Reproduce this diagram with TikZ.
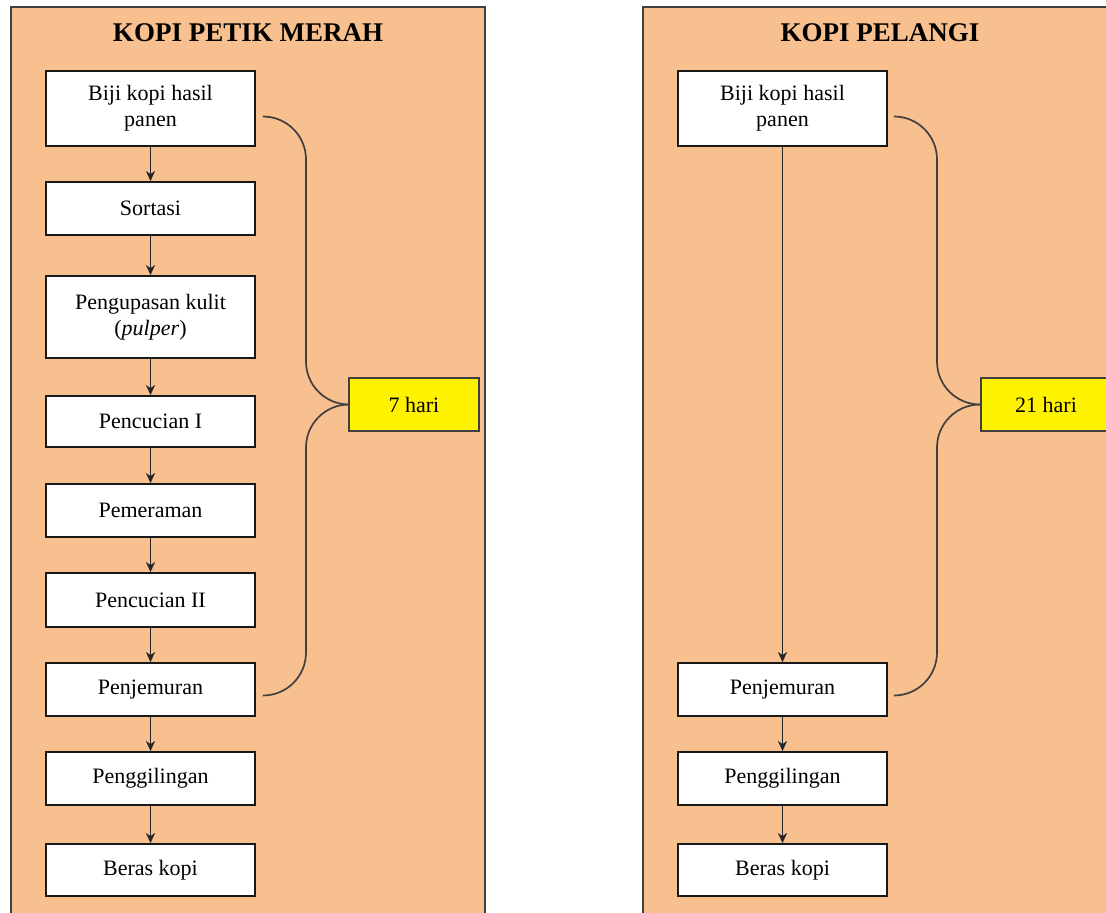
\documentclass[tikz,border=0pt]{standalone}
\usepackage{fontspec}
\setmainfont{Liberation Serif}
\usetikzlibrary{arrows.meta,calc}
\definecolor{peach}{RGB}{248,191,143}
\definecolor{framegray}{RGB}{64,64,64}
\begin{document}
\begin{tikzpicture}[x=1pt,y=-1pt,
  panel/.style={draw=framegray,line width=2.2pt,fill=peach},
  stepbox/.style={draw=black!90,line width=1.8pt,fill=white,minimum width=209pt,align=center,
    font=\fontsize{22}{26}\selectfont,inner sep=0pt},
  daybox/.style={draw=black!75,line width=1.8pt,fill=yellow,minimum width=130pt,minimum height=53pt,
    font=\fontsize{22}{26}\selectfont,inner sep=0pt},
  paneltitle/.style={font=\bfseries\fontsize{27}{30}\selectfont},
  flow/.style={draw=black!85,line width=1.7pt,-{Stealth[length=10pt,width=9pt,inset=3pt]}},
  brace/.style={draw=black!75,line width=1.7pt,rounded corners=43pt}]
\useasboundingbox (0,0) rectangle (1106,913);
\clip (0,0) rectangle (1106,913);
\fill[white] (0,0) rectangle (1106,913);

% panels
\draw[panel] (11,7) rectangle (485,940);
\draw[panel] (643,7) rectangle (1117,940);

\node[paneltitle] (t1) at (248,33) {KOPI PETIK MERAH};
\node[paneltitle] (t2) at (880,33) {KOPI PELANGI};

% left column
\node[stepbox,minimum height=75pt] (a1) at (150.5,108.5) {Biji kopi hasil\\panen};
\node[stepbox,minimum height=53pt] (a2) at (150.5,208.5) {Sortasi};
\node[stepbox,minimum height=82pt] (a3) at (150.5,317) {Pengupasan kulit\\(\textit{pulper})};
\node[stepbox,minimum height=51pt] (a4) at (150.5,421.5) {Pencucian I};
\node[stepbox,minimum height=53pt] (a5) at (150.5,510.5) {Pemeraman};
\node[stepbox,minimum height=54pt] (a6) at (150.5,600) {Pencucian II};
\node[stepbox,minimum height=53pt] (a7) at (150.5,689.5) {Penjemuran};
\node[stepbox,minimum height=53pt] (a8) at (150.5,778.5) {Penggilingan};
\node[stepbox,minimum height=52pt] (a9) at (150.5,870) {Beras kopi};

\draw[flow] (a1) -- (a2);
\draw[flow] (a2) -- (a3);
\draw[flow] (a3) -- (a4);
\draw[flow] (a4) -- (a5);
\draw[flow] (a5) -- (a6);
\draw[flow] (a6) -- (a7);
\draw[flow] (a7) -- (a8);
\draw[flow] (a8) -- (a9);

\node[daybox] (d1) at (414,404.5) {7 hari};
\coordinate (bx1) at (306,0);
\coordinate (a1r) at ($(a1.east)+(7,8)$);
\coordinate (a7r) at ($(a7.east)+(7,6)$);
\draw[brace] (a1r) -| (bx1 |- d1.west) -- (d1.west);
\draw[brace] (d1.west) -- (bx1 |- d1.west) |- (a7r);

% right column
\node[stepbox,minimum height=75pt] (b1) at (782.5,108.5) {Biji kopi hasil\\panen};
\node[stepbox,minimum height=53pt] (b2) at (782.5,689.5) {Penjemuran};
\node[stepbox,minimum height=53pt] (b3) at (782.5,778.5) {Penggilingan};
\node[stepbox,minimum height=52pt] (b4) at (782.5,870) {Beras kopi};

\draw[flow] (b1) -- (b2);
\draw[flow] (b2) -- (b3);
\draw[flow] (b3) -- (b4);

\node[daybox] (d2) at (1046,404.5) {21 hari};
\coordinate (bx2) at (937,0);
\coordinate (b1r) at ($(b1.east)+(7,8)$);
\coordinate (b2r) at ($(b2.east)+(7,6)$);
\draw[brace] (b1r) -| (bx2 |- d2.west) -- (d2.west);
\draw[brace] (d2.west) -- (bx2 |- d2.west) |- (b2r);
\end{tikzpicture}
\end{document}
